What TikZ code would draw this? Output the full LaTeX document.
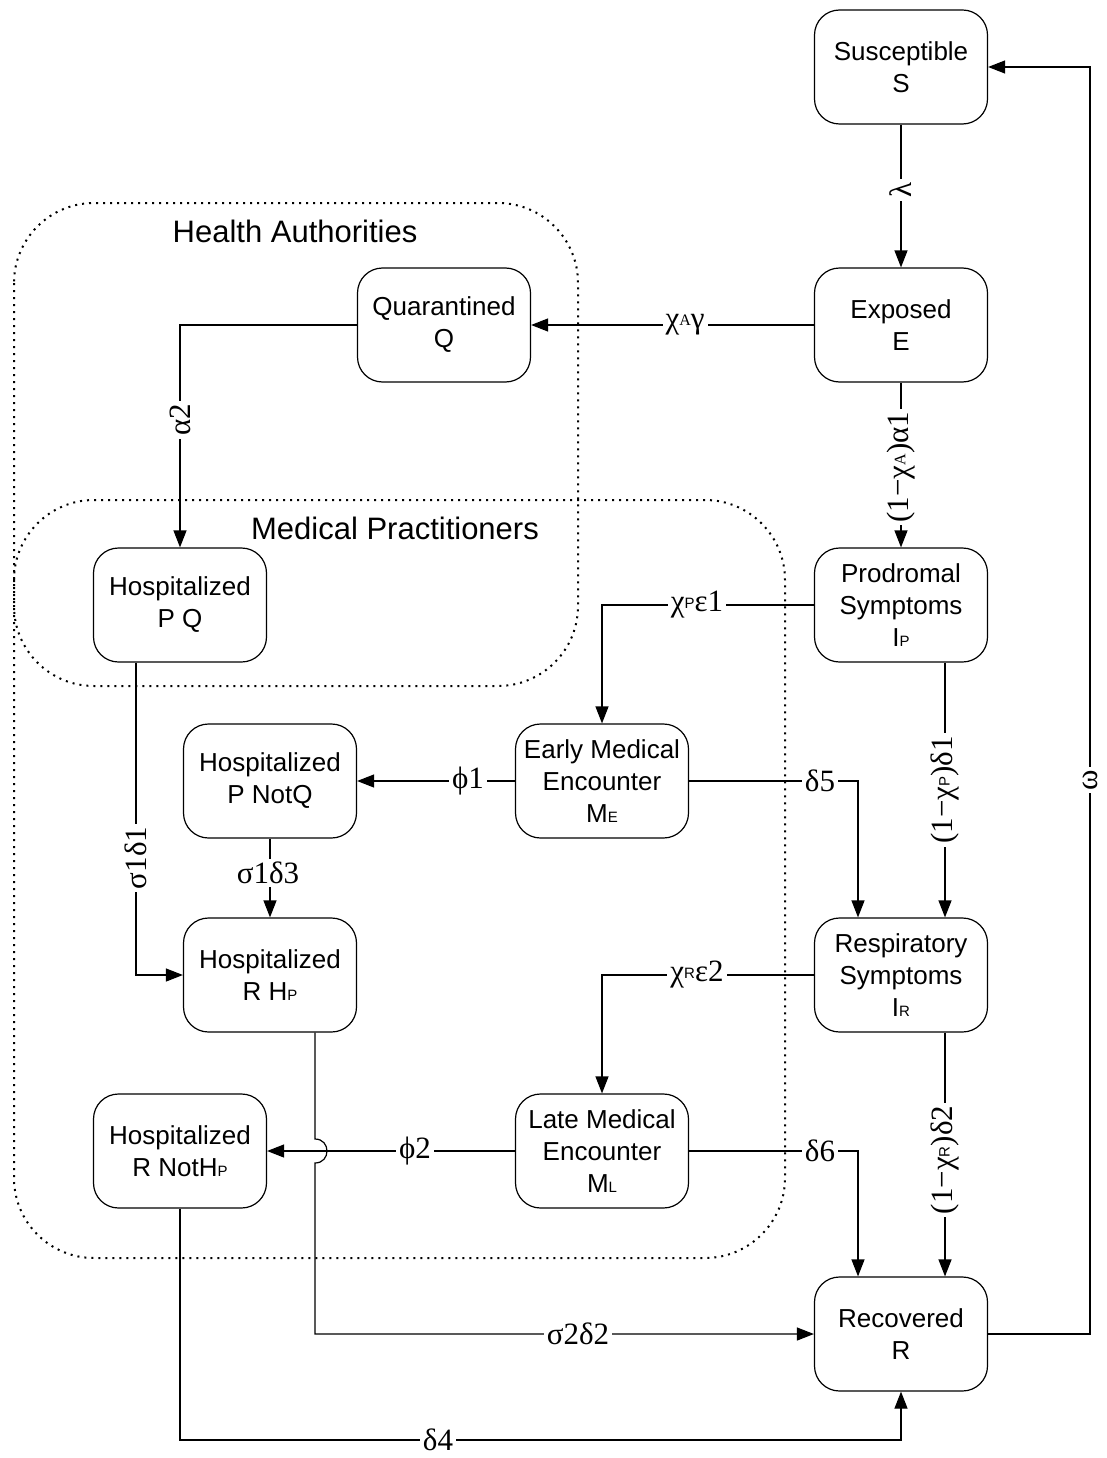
\documentclass[tikz,border=0pt]{standalone}
\usepackage{fontspec}
\setmainfont{Liberation Sans}
\newfontfamily\tms{Liberation Serif}
\usetikzlibrary{arrows.meta}
\newcommand{\sbn}[1]{{\fontsize{15}{15}\selectfont #1}}
\newcommand{\sbs}[1]{\raisebox{3pt}{\fontsize{15}{15}\selectfont\rmfamily #1}}
\newcommand{\sbt}[1]{\raisebox{3pt}{\fontsize{16}{16}\selectfont\tms #1}}
\begin{document}
\begin{tikzpicture}[x=1pt,y=-1pt,line width=1.2pt,
  box/.style={draw,rounded corners=25pt,minimum width=173pt,minimum height=114pt,align=center,font=\fontsize{26}{32}\selectfont,inner sep=0pt},
  lab/.style={fill=white,inner sep=3pt,font=\fontsize{31}{31}\selectfont\tms},
  arr/.style={-{Triangle[length=17pt,width=13pt]}},
  grp/.style={draw,dash pattern=on 2pt off 5pt,line width=2pt,rounded corners=80pt},
  glab/.style={font=\fontsize{31}{31}\selectfont}]
\useasboundingbox (0,0) rectangle (1106,1458);
% groups
\draw[grp] (14,203) rectangle (578,686);
\draw[grp] (14,500) rectangle (785,1258);
\node[glab] (HA) at (295,231) {Health Authorities};
\node[glab] (MP) at (395,528) {Medical Practitioners};
% nodes
\node[box] (S) at (901,67) {Susceptible\\S};
\node[box] (E) at (901,325) {Exposed\\E};
\node[box] (Q) at (444,325) {Quarantined\\Q};
\node[box] (IP) at (901,605) {Prodromal\\Symptoms\\I\sbn{P}};
\node[box] (PQ) at (180,605) {Hospitalized\\P Q};
\node[box] (ME) at (602,781) {Early Medical\\Encounter\\M\sbn{E}};
\node[box] (PNQ) at (270,781) {Hospitalized\\P NotQ};
\node[box] (RHP) at (270,975) {Hospitalized\\R H\sbn{P}};
\node[box] (IR) at (901,975) {Respiratory\\Symptoms\\I\sbn{R}};
\node[box] (ML) at (602,1151) {Late Medical\\Encounter\\M\sbn{L}};
\node[box] (RNH) at (180,1151) {Hospitalized\\R NotH\sbn{P}};
\node[box] (R) at (901,1334) {Recovered\\R};
% edges
\draw[arr] (S) -- (E);
\draw[arr] (E) -- (Q);
\draw[arr] (E) -- (IP);
\draw[arr] (Q.west) -| (PQ.north);
\draw[arr] (IP.west) -| (ME.north);
\draw[arr] ([xshift=44pt]IP.south) -- ([xshift=44pt]IR.north);
\draw[arr] (ME) -- (PNQ);
\draw[arr] (ME.east) -| ([xshift=-43pt]IR.north);
\draw[arr] (PNQ) -- (RHP);
\draw[arr] ([xshift=-44pt]PQ.south) |- (RHP.west);
\draw[arr] (IR.west) -| (ML.north);
\draw[arr] ([xshift=44pt]IR.south) -- ([xshift=44pt]R.north);
\draw[arr] (ML) -- (RNH);
\draw[arr] (ML.east) -| ([xshift=-43pt]R.north);
\draw[arr] ([xshift=45pt]RHP.south) -- (315,1139) .. controls (331,1139) and (331,1163) .. (315,1163) |- (R.west);
\draw[arr] (RNH.south) -- (180,1440) -| (R.south);
\draw[arr] (R.east) -- (1090,1334) |- (S.east);
% labels
\node[lab,rotate=90] (l1) at (901,190) {λ};
\node[lab] (l2) at (685,325) {χ\sbt{A}γ};
\node[lab,rotate=90] (l3) at (901,467) {(1−χ\sbt{A})α1};
\node[lab,rotate=90] (l4) at (180,420) {α2};
\node[lab] (l5) at (697,605) {χ\sbs{P}ε1};
\node[lab,rotate=90] (l6) at (945,790) {(1−χ\sbs{P})δ1};
\node[lab] (l7) at (468,781) {ϕ1};
\node[lab] (l8) at (820,781) {δ5};
\node[lab] (l9) at (268,873) {σ1δ3};
\node[lab,rotate=90] (l10) at (136,858) {σ1δ1};
\node[lab] (l11) at (697,975) {χ\sbs{R}ε2};
\node[lab,rotate=90] (l12) at (945,1160) {(1−χ\sbs{R})δ2};
\node[lab] (l13) at (415,1151) {ϕ2};
\node[lab] (l14) at (820,1151) {δ6};
\node[lab] (l15) at (578,1334) {σ2δ2};
\node[lab] (l16) at (438,1440) {δ4};
\node[lab,rotate=90] (l17) at (1090,780) {ω};
\end{tikzpicture}
\end{document}
